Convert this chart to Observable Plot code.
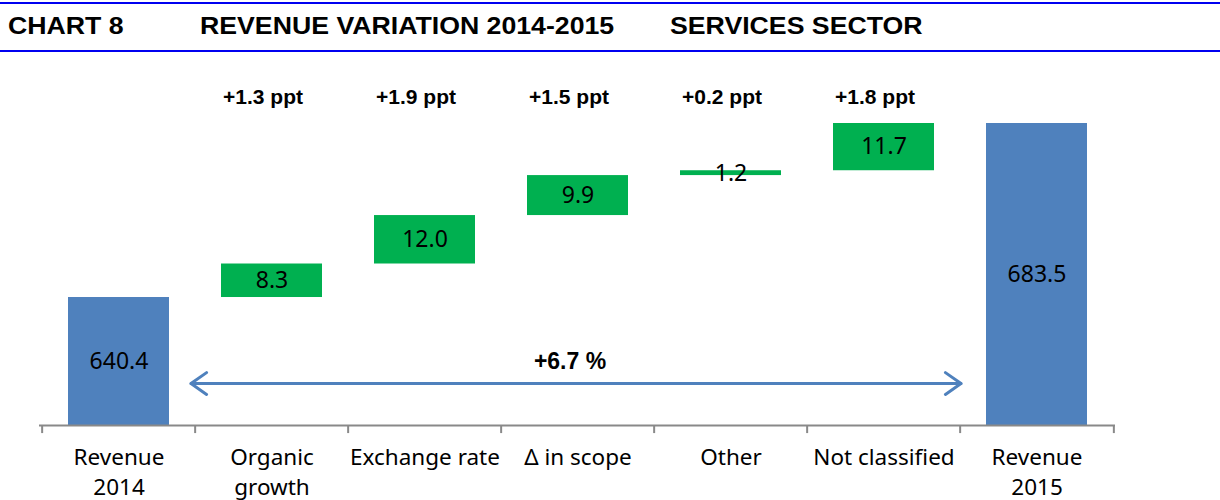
<!DOCTYPE html>
<html><head><meta charset="utf-8">
<script src="https://cdn.jsdelivr.net/npm/d3@7"></script>
<script src="https://cdn.jsdelivr.net/npm/@observablehq/plot@0.6"></script>
<style>
html,body{margin:0;padding:0;background:#fff;overflow:hidden;}
#header{position:relative;height:56px;width:1220px;}
#header .box{position:absolute;left:0;top:2px;width:1220px;height:46px;border-top:2px solid #0000f0;border-bottom:2px solid #0000f0;}
#header span{position:absolute;top:13px;font:bold 23px "Liberation Sans",Arial,sans-serif;color:#000;transform:scaleX(1.16);transform-origin:left center;white-space:nowrap;}
#chart svg{display:block;}
</style></head><body>
<div id="header">
<div class="box"></div>
<span style="left:8px">CHART 8</span>
<span style="left:200px">REVENUE VARIATION 2014-2015</span>
<span style="left:670px">SERVICES SECTOR</span>
</div>
<div id="chart"></div>
<script>
const categories = ["Revenue 2014","Organic growth","Exchange rate","Δ in scope","Other","Not classified","Revenue 2015"];
const tickLabels = ["Revenue\n2014","Organic\ngrowth","Exchange rate","Δ in scope","Other","Not classified","Revenue\n2015"];
const values = [640.4, 8.3, 12.0, 9.9, 1.2, 11.7, 683.5];
const kinds = ["total","change","change","change","change","change","total"];
const pptLabels = ["","+1.3 ppt","+1.9 ppt","+1.5 ppt","+0.2 ppt","+1.8 ppt",""];
const totalChange = "+6.7 %";
const yMin = 608.7;

let running = 0;
const rows = categories.map((c, i) => {
  let y1, y2;
  if (kinds[i] === "total") { y1 = yMin; y2 = values[i]; running = values[i]; }
  else { y1 = running; y2 = running + values[i]; running = y2; }
  return {cat: c, label: tickLabels[i], value: values[i], kind: kinds[i], y1, y2, ym: (y1 + y2) / 2, ppt: pptLabels[i]};
});
const labelOf = Object.fromEntries(categories.map((c, i) => [c, tickLabels[i]]));

const W = 1220, bw = (W - 39 - 105) / categories.length;
const font = "'Noto Sans', sans-serif";
const bold = "'Liberation Sans', Arial, sans-serif";

const chart = Plot.plot({
  width: W,
  height: 444,
  marginLeft: 39,
  marginRight: 105,
  marginTop: 67,
  marginBottom: 75,
  style: {fontFamily: font, background: "#fff", overflow: "visible"},
  x: {domain: categories, padding: 0, label: null},
  y: {domain: [yMin, 683.5], axis: null},
  color: {domain: ["total","change"], range: ["#4f81bd","#00b050"]},
  marks: [
    Plot.barY(rows, {x: "cat", y1: "y1", y2: "y2", fill: "kind", insetLeft: 26, insetRight: 26}),
    Plot.text(rows, {x: "cat", y: "ym", text: d => d.value.toFixed(1), fontSize: 23, fontFamily: font, fill: "#000"}),
    Plot.text(rows.filter(d => d.ppt), {x: "cat", y: 690, text: "ppt", dx: -9, fontSize: 21, fontWeight: "bold", fontFamily: bold, fill: "#000"}),
    Plot.ruleY([yMin], {stroke: "#898989", strokeWidth: 2}),
    Plot.ruleX(categories, {x: d => d, dx: -bw / 2, y1: yMin, y2: yMin - 2, stroke: "#898989", strokeWidth: 2}),
    Plot.ruleX([categories[categories.length - 1]], {x: d => d, dx: bw / 2, y1: yMin, y2: yMin - 2, stroke: "#898989", strokeWidth: 2}),
    Plot.arrow([{a: categories[0], b: categories[6]}], {x1: "a", x2: "b", y1: 619.1, y2: 619.1, insetStart: 72, insetEnd: 76, stroke: "#4f81bd", strokeWidth: 3, headLength: 9.5, headAngle: 70}),
    Plot.arrow([{a: categories[0], b: categories[6]}], {x1: "b", x2: "a", y1: 619.1, y2: 619.1, insetStart: 76, insetEnd: 72, stroke: "#4f81bd", strokeWidth: 3, headLength: 9.5, headAngle: 70}),
    Plot.text([totalChange], {x: () => categories[3], y: 624.5, text: d => d, dx: -8, fontSize: 23, fontWeight: "bold", fontFamily: bold, fill: "#000"}),
    Plot.axisX({tickSize: 0, tickPadding: 19, fontSize: 22.5, fontFamily: font, lineHeight: 1.3, tickFormat: d => labelOf[d], fill: "#000", label: null})
  ]
});
document.getElementById("chart").appendChild(chart);
</script>
</body></html>
